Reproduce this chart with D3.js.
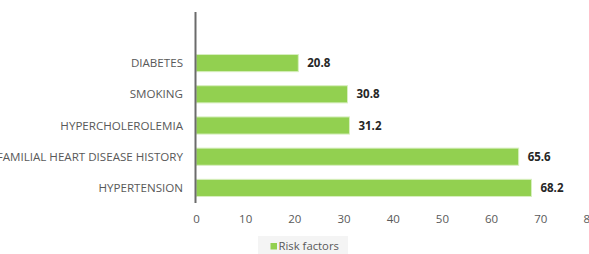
<!DOCTYPE html>
<html><head><meta charset="utf-8">
<script src="https://cdn.jsdelivr.net/npm/d3@7"></script>
<style>body{margin:0;background:#fff;} svg{display:block;}</style>
</head><body>
<script>
const categories = ["DIABETES","SMOKING","HYPERCHOLEROLEMIA","FAMILIAL HEART DISEASE HISTORY","HYPERTENSION"];
const values = [20.8, 30.8, 31.2, 65.6, 68.2];
const tickValues = [0,10,20,30,40,50,60,70,80];
const seriesName = "Risk factors";

const W = 589, H = 254;
const svg = d3.select("body").append("svg").attr("width", W).attr("height", H);
const font = "'Open Sans', sans-serif";

const x = d3.scaleLinear().domain([0, 80]).range([196, 589.5]);
const y = d3.scaleBand().domain(categories).range([47.5, 203.5]).paddingInner(0.45).paddingOuter(0.225);

svg.append("g").selectAll("rect").data(values).join("rect")
  .attr("x", x(0)).attr("y", (d,i) => y(categories[i]))
  .attr("width", d => x(d) - x(0)).attr("height", y.bandwidth())
  .attr("fill", "#92D050").attr("stroke", "#d8efc0").attr("stroke-width", 1);

svg.append("g").selectAll("text").data(values).join("text")
  .attr("x", d => x(d) + 9).attr("y", (d,i) => y(categories[i]) + y.bandwidth()/2)
  .attr("dy", "0.35em").attr("font-family", font).attr("font-size", 11.5).attr("font-weight", "bold")
  .attr("fill", "#262626").text(d => d.toFixed(1));

// category labels
svg.append("g").selectAll("text").data(categories).join("text")
  .attr("x", 183).attr("y", d => y(d) + y.bandwidth()/2).attr("dy", "0.35em")
  .attr("text-anchor", "end").attr("font-family", font).attr("font-size", 11.6)
  .attr("fill", "#595959").text(d => d);

// y axis line
svg.append("line").attr("x1", 195.5).attr("x2", 195.5).attr("y1", 12).attr("y2", 203)
  .attr("stroke", "#6b6b6b").attr("stroke-width", 2);

// x tick labels
const xAxis = d3.axisBottom(x).tickValues(tickValues).tickSize(0).tickFormat(d3.format("d"));
const gx = svg.append("g").attr("transform", "translate(0,212)").call(xAxis);
gx.select(".domain").remove();
gx.selectAll("text").attr("font-family", font).attr("font-size", 11.5).attr("fill", "#595959");

// legend
const lg = svg.append("g");
lg.append("rect").attr("x", 258).attr("y", 236).attr("width", 90).attr("height", 20).attr("fill", "#f4f4f4");
lg.append("rect").attr("x", 270.5).attr("y", 243).attr("width", 6.5).attr("height", 6.5).attr("fill", "#92D050");
lg.append("text").attr("x", 278.5).attr("y", 246).attr("dy", "0.35em").attr("font-family", font)
  .attr("font-size", 11.3).attr("fill", "#595959").text(seriesName);
</script>
</body></html>
